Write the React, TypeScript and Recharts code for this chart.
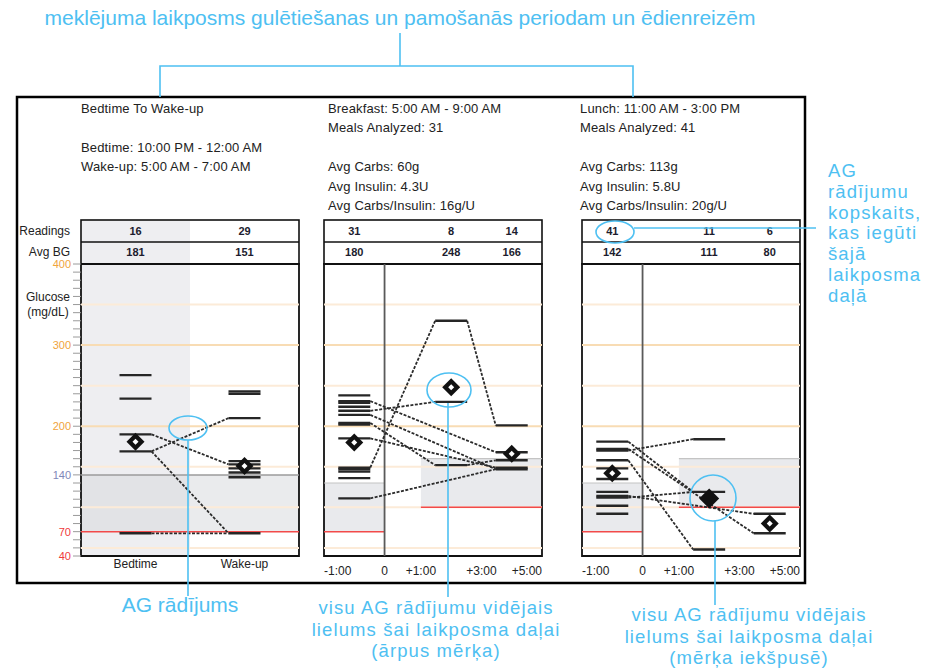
import React from 'react';
import { ComposedChart, XAxis, YAxis, Line, Scatter, ReferenceArea, ReferenceLine } from 'recharts';

const FONT = '"Liberation Sans", Arial, Helvetica, sans-serif';
const BLUE = '#4ec0f2';
const INK = '#222';

// glucose axis (mg/dL)
const GLUCOSE_MIN = 40;
const GLUCOSE_MAX = 400;
const GLUCOSE_LABELS = [400, 300, 200, 140, 70, 40];
const GRID_STRONG = [300, 200];
const GRID_FAINT = [350, 250, 150, 100, 50];

// Bedtime to Wake-up
const BED_HEADER = ['Bedtime To Wake-up', '', 'Bedtime: 10:00 PM - 12:00 AM', 'Wake-up: 5:00 AM - 7:00 AM'];
const BED_LABELS = ['Bedtime', 'Wake-up'];
const BED_COUNTS = [16, 29];
const BED_AVG = [181, 151];
const BED_TARGET = [70, 140];
const BED_READINGS = [
  [263, 234, 190, 169, 68],
  [243, 240, 210, 157, 153, 148, 143, 137, 68],
];
const BED_TRACES = [
  [190, 153],
  [169, 210],
  [169, 68],
  [68, 68],
];

// meals
const MEAL_TICK_HOURS = [-1, 0, 1, 3, 5];
const MEAL_TICK_LABELS = ['-1:00', '0', '+1:00', '+3:00', '+5:00'];
const MEAL_SLOT_HOURS = [-0.5, 2, 4];
const PRE_TARGET = [70, 130];
const POST_TARGET = [100, 160];

const BREAKFAST_HEADER = ['Breakfast: 5:00 AM - 9:00 AM', 'Meals Analyzed: 31', '', 'Avg Carbs: 60g', 'Avg Insulin: 4.3U', 'Avg Carbs/Insulin: 16g/U'];
const BREAKFAST_COUNTS = [31, 8, 14];
const BREAKFAST_AVG = [180, 248, 166];
const BREAKFAST_READINGS = [
  [238, 231, 229, 224, 219, 214, 204, 202, 185, 149, 147, 144, 136, 111],
  [330, 230, 152],
  [201, 168, 158, 149, 147],
];
const BREAKFAST_TRACES = [
  [149, 330, 201],
  [231, null, 168],
  [219, 230, null],
  [214, null, 147],
  [204, 152, 158],
  [185, null, 149],
  [111, null, 147],
];

const LUNCH_HEADER = ['Lunch: 11:00 AM - 3:00 PM', 'Meals Analyzed: 41', '', 'Avg Carbs: 113g', 'Avg Insulin: 5.8U', 'Avg Carbs/Insulin: 20g/U'];
const LUNCH_COUNTS = [41, 11, 6];
const LUNCH_AVG = [142, 111, 80];
const LUNCH_READINGS = [
  [181, 172, 170, 158, 148, 135, 119, 114, 112, 102, 92],
  [184, 119, 48],
  [92, 68],
];
const LUNCH_TRACES = [
  [170, 184, null],
  [181, 119, null],
  [158, 48, null],
  [172, null, 68],
  [112, 119, null],
  [114, null, 92],
];

// callout texts
const TOP_NOTE = 'meklējuma laikposms gulētiešanas un pamošanās periodam un ēdienreizēm';
const COUNT_NOTE = ['AG', 'rādījumu', 'kopskaits,', 'kas iegūti', 'šajā', 'laikposma', 'daļā'];
const READING_NOTE = 'AG rādījums';
const AVG_OUT_NOTE = ['visu AG rādījumu vidējais', 'lielums šai laikposma daļai', '(ārpus mērķa)'];
const AVG_IN_NOTE = ['visu AG rādījumu vidējais', 'lielums šai laikposma daļai', '(mērķa iekšpusē)'];

// layout
const PLOT_W = 218;
const CHART_TOP = 254;
const CHART_H = 326;
const PLOT_LEFTS = [81, 324, 582];
const DASH_HALF = 16;
const MEAL_AXIS_STOPS = [0, 2, 3.2, 5.2, 7.2];
const BED_SLOTS = [0.5, 1.5];

const glucoseTicks: number[] = [];
for (let v = GLUCOSE_MIN; v <= GLUCOSE_MAX; v += 10) glucoseTicks.push(v);

const hourToAxis = (h: number) => {
  const n = MEAL_TICK_HOURS.length;
  for (let i = 0; i < n - 1; i++) {
    const h0 = MEAL_TICK_HOURS[i];
    const h1 = MEAL_TICK_HOURS[i + 1];
    if (h <= h1 || i === n - 2) {
      const a0 = MEAL_AXIS_STOPS[i];
      const a1 = MEAL_AXIS_STOPS[i + 1];
      return a0 + ((h - h0) / (h1 - h0)) * (a1 - a0);
    }
  }
  return 0;
};

const labelColor = (v: number) => (v >= 200 ? '#f0a43c' : v >= 100 ? '#7f86b8' : '#f03a3a');

const DashShape = (props: any) => {
  const { cx, cy } = props;
  if (cx == null || cy == null) return <g />;
  return <line x1={cx - DASH_HALF} x2={cx + DASH_HALF} y1={cy} y2={cy} stroke="#262626" strokeWidth={2.4} />;
};

const DiamondShape = (props: any) => {
  const { cx, cy, payload } = props;
  if (cx == null || cy == null) return <g />;
  const solid = payload && payload.inside;
  const o = solid ? 10 : 9;
  const i = 3;
  const pts = (r: number) => `${cx},${cy - r} ${cx + r},${cy} ${cx},${cy + r} ${cx - r},${cy}`;
  return (
    <g>
      <polygon points={pts(o)} fill="#111" />
      {!solid && <polygon points={pts(i)} fill="#fff" />}
    </g>
  );
};

function marks(
  slots: number[],
  readings: number[][],
  traces: (number | null)[][],
  averages: number[],
  targets: number[][],
  half: number,
) {
  const out: React.ReactNode[] = [];
  traces.forEach((tr, t) => {
    const idx = tr.map((v, i) => (v == null ? -1 : i)).filter((i) => i >= 0);
    for (let k = 0; k < idx.length - 1; k++) {
      const a = idx[k];
      const b = idx[k + 1];
      out.push(
        <Line
          key={`tr-${t}-${k}`}
          data={[
            { x: slots[a] + half, y: tr[a] },
            { x: slots[b] - half, y: tr[b] },
          ]}
          dataKey="y"
          type="linear"
          stroke="#2b2b2b"
          strokeWidth={1.8}
          strokeDasharray="3 1.5"
          dot={false}
          activeDot={false}
          isAnimationActive={false}
        />,
      );
    }
  });
  readings.forEach((col, i) => {
    out.push(
      <Scatter
        key={`rd-${i}`}
        data={col.map((v) => ({ x: slots[i], y: v }))}
        shape={DashShape}
        isAnimationActive={false}
      />,
    );
  });
  out.push(
    <Scatter
      key="avg"
      data={averages.map((v, i) => ({ x: slots[i], y: v, inside: v >= targets[i][0] && v <= targets[i][1] }))}
      shape={DiamondShape}
      isAnimationActive={false}
    />,
  );
  return out;
}

const gridLines = () => [
  ...GRID_FAINT.map((v) => <ReferenceLine key={`gf-${v}`} y={v} stroke="#fcebd8" strokeWidth={2} />),
  ...GRID_STRONG.map((v) => <ReferenceLine key={`gs-${v}`} y={v} stroke="#f8dcb4" strokeWidth={2} />),
];

function BedChart() {
  const left = PLOT_LEFTS[0];
  const half = DASH_HALF / (PLOT_W / 2);
  return (
    <div style={{ position: 'absolute', left: left - 61, top: CHART_TOP }}>
      <ComposedChart width={61 + PLOT_W + 6} height={CHART_H} margin={{ top: 10, right: 6, bottom: 2, left: 0 }}>
        <XAxis
          type="number"
          dataKey="x"
          domain={[0, 2]}
          ticks={BED_SLOTS}
          interval={0}
          allowDataOverflow
          axisLine={false}
          tickLine={false}
          tickSize={0}
          tickMargin={3}
          height={22}
          tickFormatter={(v: number) => BED_LABELS[BED_SLOTS.indexOf(v)]}
          tick={{ fill: INK, fontSize: 12, fontFamily: FONT }}
        />
        <YAxis
          type="number"
          dataKey="y"
          domain={[GLUCOSE_MIN, GLUCOSE_MAX]}
          ticks={glucoseTicks}
          interval={0}
          allowDataOverflow
          width={61}
          tickSize={8}
          tickMargin={2}
          axisLine={false}
          tickLine={{ stroke: '#9a9a9a' }}
          tick={(p: any) =>
            GLUCOSE_LABELS.includes(p.payload.value) ? (
              <text x={p.x} y={p.y} dy="0.36em" textAnchor="end" fontSize={11} fontFamily={FONT} fill={labelColor(p.payload.value)}>
                {p.payload.value}
              </text>
            ) : (
              <g />
            )
          }
        />
        <ReferenceArea x1={0} x2={1} y1={GLUCOSE_MIN} y2={GLUCOSE_MAX} fill="#eeeef1" fillOpacity={1} stroke="none" />
        <ReferenceArea x1={0} x2={2} y1={BED_TARGET[0]} y2={BED_TARGET[1]} fill="#d6d7dc" fillOpacity={0.5} stroke="none" />
        {gridLines()}
        <ReferenceLine y={BED_TARGET[1]} stroke="#9b9b9b" strokeWidth={1.5} />
        <ReferenceLine y={BED_TARGET[0]} stroke="#f24a4a" strokeWidth={1.5} />
        {marks(BED_SLOTS, BED_READINGS, BED_TRACES, BED_AVG, [BED_TARGET, BED_TARGET], half)}
        <ReferenceArea x1={0} x2={2} y1={GLUCOSE_MIN} y2={GLUCOSE_MAX} fill="none" stroke="#111" strokeWidth={1.8} />
      </ComposedChart>
    </div>
  );
}

function MealChart({ left, readings, traces, averages }: { left: number; readings: number[][]; traces: (number | null)[][]; averages: number[] }) {
  const span = MEAL_AXIS_STOPS[MEAL_AXIS_STOPS.length - 1];
  const half = DASH_HALF / (PLOT_W / span);
  const slots = MEAL_SLOT_HOURS.map(hourToAxis);
  const ticks = MEAL_TICK_HOURS.map(hourToAxis);
  const zero = hourToAxis(0);
  const postStart = hourToAxis(1);
  const targets = [PRE_TARGET, POST_TARGET, POST_TARGET];
  return (
    <div style={{ position: 'absolute', left: left - 6, top: CHART_TOP }}>
      <ComposedChart width={PLOT_W + 12} height={CHART_H} margin={{ top: 10, right: 6, bottom: 2, left: 6 }}>
        <XAxis
          type="number"
          dataKey="x"
          domain={[0, span]}
          ticks={ticks}
          interval={0}
          allowDataOverflow
          axisLine={false}
          tickLine={false}
          tickSize={0}
          tickMargin={10}
          height={22}
          tick={(p: any) => {
            const i = ticks.indexOf(p.payload.value);
            const anchor = i === 0 ? 'start' : i === ticks.length - 1 ? 'end' : 'middle';
            return (
              <text x={p.x} y={p.y} dy="0.71em" textAnchor={anchor} fontSize={12} fontFamily={FONT} fill={INK}>
                {MEAL_TICK_LABELS[i]}
              </text>
            );
          }}
        />
        <YAxis type="number" dataKey="y" domain={[GLUCOSE_MIN, GLUCOSE_MAX]} hide width={0} allowDataOverflow />
        <ReferenceArea x1={0} x2={zero} y1={PRE_TARGET[0]} y2={PRE_TARGET[1]} fill="#e9eaed" fillOpacity={1} stroke="none" />
        <ReferenceArea x1={postStart} x2={span} y1={POST_TARGET[0]} y2={POST_TARGET[1]} fill="#e9eaed" fillOpacity={1} stroke="none" />
        {gridLines()}
        <ReferenceLine segment={[{ x: 0, y: PRE_TARGET[1] }, { x: zero, y: PRE_TARGET[1] }]} stroke="#c4c4c4" strokeWidth={1.2} />
        <ReferenceLine segment={[{ x: 0, y: PRE_TARGET[0] }, { x: zero, y: PRE_TARGET[0] }]} stroke="#f24a4a" strokeWidth={1.5} />
        <ReferenceLine segment={[{ x: postStart, y: POST_TARGET[1] }, { x: span, y: POST_TARGET[1] }]} stroke="#c4c4c4" strokeWidth={1.2} />
        <ReferenceLine segment={[{ x: postStart, y: POST_TARGET[0] }, { x: span, y: POST_TARGET[0] }]} stroke="#f24a4a" strokeWidth={1.5} />
        <ReferenceLine x={zero} stroke="#5a5a5a" strokeWidth={1.8} />
        {marks(slots, readings, traces, averages, targets, half)}
        <ReferenceArea x1={0} x2={span} y1={GLUCOSE_MIN} y2={GLUCOSE_MAX} fill="none" stroke="#111" strokeWidth={1.8} />
      </ComposedChart>
    </div>
  );
}

function Header({ x, lines }: { x: number; lines: string[] }) {
  return (
    <g>
      {lines.map((s, i) => (
        <text key={i} x={x} y={112.5 + i * 19.5} fontSize={13} fill={INK} letterSpacing={0.15}>
          {s}
        </text>
      ))}
    </g>
  );
}

function StatsTable({ left, centers, counts, avgs, shadeW }: { left: number; centers: number[]; counts: number[]; avgs: number[]; shadeW?: number }) {
  return (
    <g>
      <rect x={left} y={220} width={PLOT_W} height={44} fill="#fff" />
      {shadeW ? <rect x={left} y={220} width={shadeW} height={44} fill="#eeeef1" /> : null}
      <rect x={left} y={220} width={PLOT_W} height={44} fill="none" stroke="#111" strokeWidth={1.6} />
      <line x1={left} x2={left + PLOT_W} y1={242} y2={242} stroke="#111" strokeWidth={1.6} />
      {counts.map((c, i) => (
        <text key={`c${i}`} x={centers[i]} y={235} textAnchor="middle" fontSize={11} fontWeight="bold" fill="#1c1c2e">
          {c}
        </text>
      ))}
      {avgs.map((c, i) => (
        <text key={`a${i}`} x={centers[i]} y={256} textAnchor="middle" fontSize={11} fontWeight="bold" fill="#1c1c2e">
          {c}
        </text>
      ))}
    </g>
  );
}

export default function App() {
  const mealSpan = MEAL_AXIS_STOPS[MEAL_AXIS_STOPS.length - 1];
  const mealCenters = (left: number) => MEAL_SLOT_HOURS.map((h) => left + (hourToAxis(h) / mealSpan) * PLOT_W);
  const bedCenters = BED_SLOTS.map((s) => PLOT_LEFTS[0] + (s / 2) * PLOT_W);
  const bigNote = { fontSize: 21, fill: BLUE } as const;
  const stackNote = { fontSize: 18.5, fill: BLUE, letterSpacing: 1.1 } as const;

  return (
    <div style={{ position: 'absolute', left: 0, top: 0, width: 947, height: 670, background: '#fff', fontFamily: FONT, overflow: 'hidden' }}>
      <svg width={947} height={670} style={{ position: 'absolute', left: 0, top: 0 }} fontFamily={FONT}>
        <rect x={17} y={97} width={788} height={486} fill="none" stroke="#000" strokeWidth={2.5} />
        <Header x={81} lines={BED_HEADER} />
        <Header x={328} lines={BREAKFAST_HEADER} />
        <Header x={580} lines={LUNCH_HEADER} />
        <text x={70} y={235} textAnchor="end" fontSize={12} fill={INK}>Readings</text>
        <text x={70} y={256} textAnchor="end" fontSize={12} fill={INK}>Avg BG</text>
        <text x={48} y={301} textAnchor="middle" fontSize={12} fill={INK}>Glucose</text>
        <text x={48} y={316} textAnchor="middle" fontSize={12} fill={INK}>(mg/dL)</text>
        <StatsTable left={PLOT_LEFTS[0]} centers={bedCenters} counts={BED_COUNTS} avgs={BED_AVG} shadeW={PLOT_W / 2} />
        <StatsTable left={PLOT_LEFTS[1]} centers={mealCenters(PLOT_LEFTS[1])} counts={BREAKFAST_COUNTS} avgs={BREAKFAST_AVG} />
        <StatsTable left={PLOT_LEFTS[2]} centers={mealCenters(PLOT_LEFTS[2])} counts={LUNCH_COUNTS} avgs={LUNCH_AVG} />
      </svg>

      <BedChart />
      <MealChart left={PLOT_LEFTS[1]} readings={BREAKFAST_READINGS} traces={BREAKFAST_TRACES} averages={BREAKFAST_AVG} />
      <MealChart left={PLOT_LEFTS[2]} readings={LUNCH_READINGS} traces={LUNCH_TRACES} averages={LUNCH_AVG} />

      <svg width={947} height={670} style={{ position: 'absolute', left: 0, top: 0, pointerEvents: 'none' }} fontFamily={FONT}>
        <g stroke={BLUE} strokeWidth={1.6} fill="none">
          <polyline points="160,97 160,66 633,66 633,97" />
          <line x1={400} y1={66} x2={400} y2={33} />
          <ellipse cx={615} cy={232} rx={19} ry={11} />
          <line x1={634} y1={228} x2={816} y2={228} />
          <ellipse cx={188} cy={428} rx={19} ry={12} />
          <line x1={188} y1={440} x2={188} y2={596} />
          <ellipse cx={449} cy={390} rx={22} ry={17} />
          <line x1={448} y1={403} x2={448} y2={597} />
          <ellipse cx={713} cy={498} rx={23} ry={23} />
          <line x1={715} y1={521} x2={715} y2={605} />
        </g>
        <text x={400} y={25} textAnchor="middle" {...bigNote}>{TOP_NOTE}</text>
        {COUNT_NOTE.map((s, i) => (
          <text key={s} x={828} y={177 + i * 20.8} {...stackNote}>{s}</text>
        ))}
        <text x={180} y={612} textAnchor="middle" {...bigNote}>{READING_NOTE}</text>
        {AVG_OUT_NOTE.map((s, i) => (
          <text key={s} x={436} y={614 + i * 21.5} textAnchor="middle" {...stackNote}>{s}</text>
        ))}
        {AVG_IN_NOTE.map((s, i) => (
          <text key={s} x={749} y={621 + i * 21.5} textAnchor="middle" {...stackNote}>{s}</text>
        ))}
      </svg>
    </div>
  );
}
